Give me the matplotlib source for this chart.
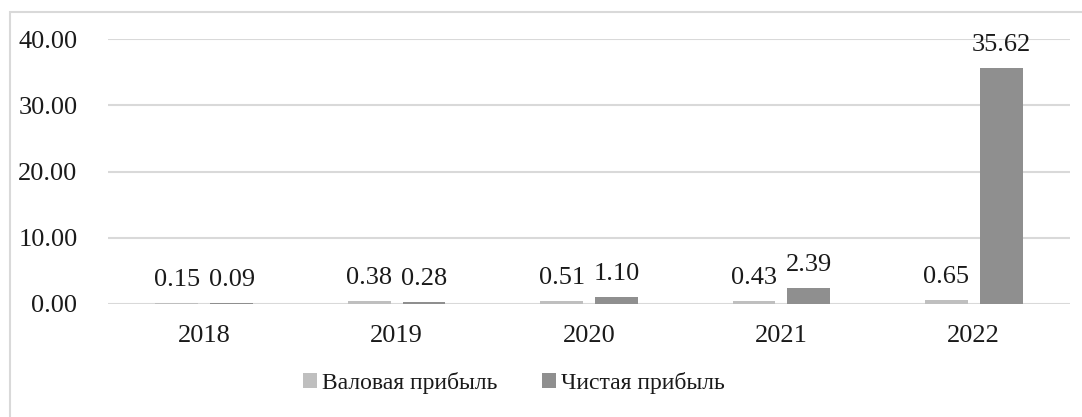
import matplotlib
matplotlib.use("Agg")
import matplotlib.pyplot as plt
import numpy as np
from matplotlib.patches import Rectangle

years = ["2018", "2019", "2020", "2021", "2022"]
gross = [0.15, 0.38, 0.51, 0.43, 0.65]
net = [0.09, 0.28, 1.10, 2.39, 35.62]
series_names = ["Валовая прибыль", "Чистая прибыль"]
yticks = [0, 10, 20, 30, 40]

plt.rcParams['font.family'] = ['Liberation Serif', 'DejaVu Serif']

W, H = 1082, 417
fig = plt.figure(figsize=(W/100, H/100), dpi=100)
# outer frame
fig.patches.append(Rectangle((10/W, -0.1), 1.2, (H-12)/H + 0.1, transform=fig.transFigure,
                             fill=False, edgecolor='#d9d9d9', linewidth=1.5))

ax = fig.add_axes([108/W, 1-304/H, (1070-108)/W, (304-39)/H])
ax.set_ylim(0, 40)
x = np.arange(len(years))
ax.set_xlim(-0.5, len(years)-0.5)
bw = 0.223
gap = 0.062
off = (bw+gap)/2
c1, c2 = '#bfbfbf', '#8f8f8f'
b1 = ax.bar(x-off, gross, bw, color=c1, label=series_names[0], zorder=3)
b2 = ax.bar(x+off, net, bw, color=c2, label=series_names[1], zorder=3)
for bars, vals in ((b1, gross), (b2, net)):
    for r, v in zip(bars, vals):
        ax.annotate(f"{v:.2f}", (r.get_x()+r.get_width()/2, v), xytext=(0, 12),
                    textcoords='offset pixels', ha='center', va='bottom', fontsize=19,
                    color='#1a1a1a')

ax.set_yticks(yticks)
ax.set_yticklabels([f"{t:.2f}" for t in yticks], fontsize=19, color='#1a1a1a')
ax.set_xticks(x)
ax.set_xticklabels(years, fontsize=19, color='#1a1a1a')
ax.tick_params(length=0)
ax.tick_params(axis='y', pad=22)
ax.tick_params(axis='x', pad=15)
ax.grid(axis='y', color='#d9d9d9', linewidth=1.5, zorder=0)
for s in ax.spines.values():
    s.set_visible(False)

leg = fig.legend(handles=[b1, b2], loc='center', bbox_to_anchor=(514/W, 1-383/H), ncol=2,
                 frameon=False, fontsize=17, handlelength=0.6, handleheight=0.6,
                 handletextpad=0.2, columnspacing=1.9)
for t in leg.get_texts():
    t.set_color('#1a1a1a')

fig.savefig("out.png", dpi=100)
